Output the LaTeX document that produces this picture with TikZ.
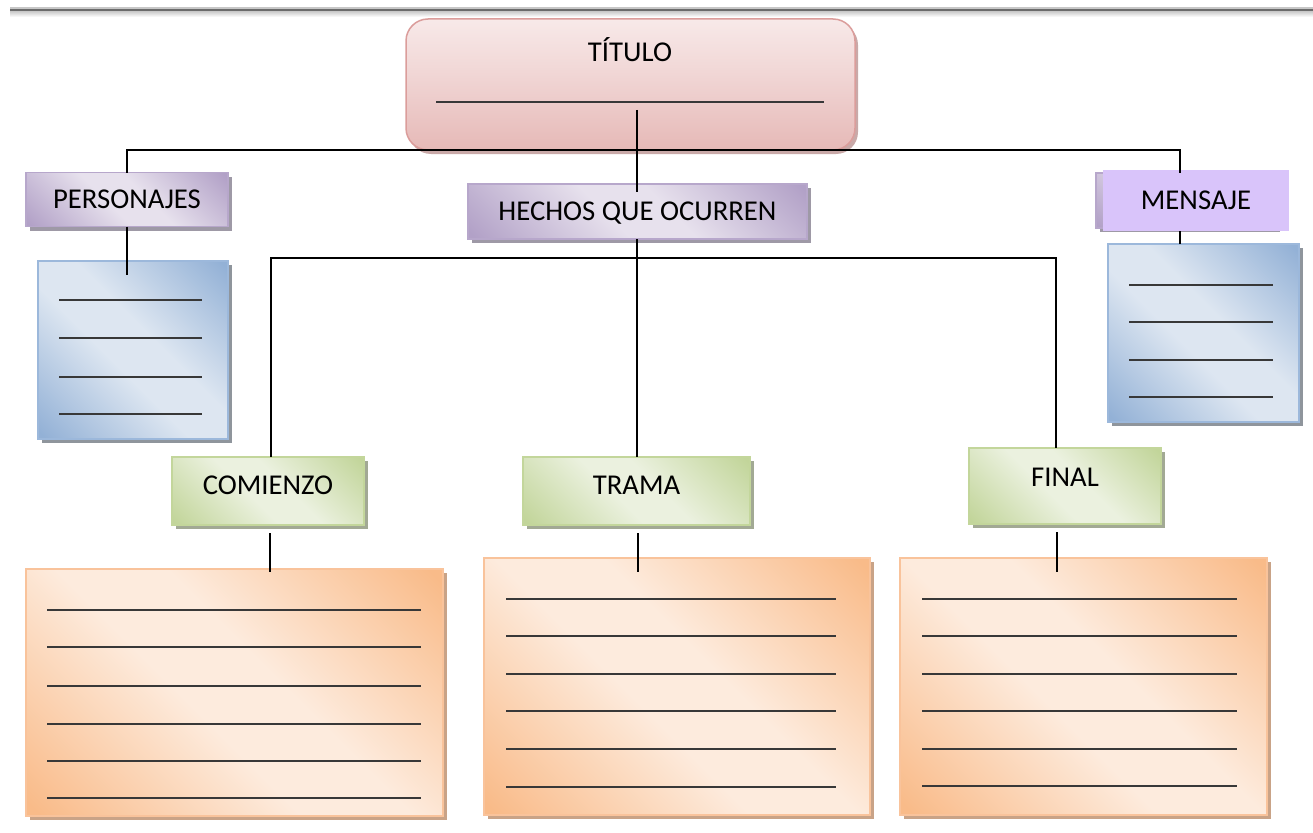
\documentclass[tikz,border=0pt]{standalone}
\usepackage{fontspec}
\setmainfont{Carlito}
\usetikzlibrary{shadows,calc}

\definecolor{ordark}{HTML}{F9BB89}
\definecolor{orlight}{HTML}{FDEBDD}
\definecolor{orline}{HTML}{F9C39B}
\definecolor{orshadow}{HTML}{C9A387}
\definecolor{bldark}{HTML}{93B1D6}
\definecolor{bllight}{HTML}{DDE6F1}
\definecolor{blline}{HTML}{9CB8DB}
\definecolor{blshadow}{HTML}{8F959C}
\definecolor{grdark}{HTML}{C2D59A}
\definecolor{grlight}{HTML}{EBF1DF}
\definecolor{grline}{HTML}{C3D69B}
\definecolor{grshadow}{HTML}{A2A994}
\definecolor{pudark}{HTML}{B2A1C7}
\definecolor{pulight}{HTML}{E7E1ED}
\definecolor{puline}{HTML}{B7A7CB}
\definecolor{pushadow}{HTML}{9E99A6}
\definecolor{melight}{HTML}{D9C4FA}
\definecolor{tidark}{HTML}{E4B4B2}
\definecolor{timid}{HTML}{F1D7D6}
\definecolor{tilight}{HTML}{FBF2F2}
\definecolor{tiline}{HTML}{DB9D9B}
\definecolor{tishadow}{HTML}{C9A9A8}

\pgfdeclareverticalshading{orshade}{100bp}{color(0bp)=(ordark); color(16bp)=(ordark); color(44bp)=(orlight); color(56bp)=(orlight); color(84bp)=(ordark); color(100bp)=(ordark)}
\pgfdeclareverticalshading{blshade}{100bp}{color(0bp)=(bldark); color(16bp)=(bldark); color(44bp)=(bllight); color(56bp)=(bllight); color(84bp)=(bldark); color(100bp)=(bldark)}
\pgfdeclareverticalshading{grshade}{100bp}{color(0bp)=(grdark); color(16bp)=(grdark); color(44bp)=(grlight); color(56bp)=(grlight); color(84bp)=(grdark); color(100bp)=(grdark)}
\pgfdeclareverticalshading{pushade}{100bp}{color(0bp)=(pudark); color(16bp)=(pudark); color(44bp)=(pulight); color(56bp)=(pulight); color(84bp)=(pudark); color(100bp)=(pudark)}
\pgfdeclareverticalshading{tishade}{100bp}{color(0bp)=(tidark); color(20bp)=(tidark); color(55bp)=(timid); color(85bp)=(tilight); color(100bp)=(tilight)}

\tikzset{
  conn/.style={draw=black, line width=1.6pt},
  rule/.style={draw=black!78, line width=1.6pt},
  boxbase/.style={rectangle, inner sep=0pt, outer sep=0pt, line width=1.5pt},
  orbox/.style={boxbase, shading=orshade, shading angle=-45, draw=orline,
    drop shadow={shadow xshift=4pt, shadow yshift=-4pt, fill=orshadow, opacity=1}},
  blbox/.style={boxbase, shading=blshade, shading angle=-45, draw=blline,
    drop shadow={shadow xshift=4pt, shadow yshift=-4pt, fill=blshadow, opacity=1}},
  grbox/.style={boxbase, shading=grshade, shading angle=-45, draw=grline,
    drop shadow={shadow xshift=4pt, shadow yshift=-4pt, fill=grshadow, opacity=1}},
  pubox/.style={boxbase, shading=pushade, shading angle=-45, draw=puline,
    drop shadow={shadow xshift=4pt, shadow yshift=-4pt, fill=pushadow, opacity=1}},
  mebox/.style={boxbase, fill=melight, draw=none},
  tibox/.style={boxbase, rounded corners=22pt, shading=tishade, draw=tiline,
    drop shadow={shadow xshift=3pt, shadow yshift=-4pt, fill=tishadow, opacity=1}},
  txt/.style={font=\fontsize{28.7}{32}\selectfont, text=black, text height=18.5pt, text depth=0pt}
}

\begin{document}
\begin{tikzpicture}[x=1pt,y=-1pt]
\useasboundingbox (0,0) rectangle (1313,832);
\fill[white] (0,0) rectangle (1313,832);
% top rule
\fill[black!22] (10,7) rectangle (1313,9);
\fill[black!58] (10,9) rectangle (1313,12);
\shade[top color=black!18, bottom color=white] (10,12) rectangle (1313,17);

% title
\node[tibox, minimum width=449pt, minimum height=131pt] (title) at (630.5,84.5) {};
\node[txt] (titletext) at (630,52) {TÍTULO};
\draw[rule] (436,102) -- (824,102);

% purple headers
\node[pubox, txt, minimum width=202pt, minimum height=54pt] (pers) at (127,199.5) {PERSONAJES};
\node[pubox, txt, minimum width=339pt, minimum height=55pt] (hechos) at (637.5,211.5) {HECHOS QUE OCURREN};
\node[pubox, minimum width=180pt, minimum height=55pt] (mensback) at (1186,200.5) {};
\node[mebox, txt, minimum width=186pt, minimum height=61pt] (mens) at (1196,200.5) {MENSAJE};

% blue boxes
\node[blbox, minimum width=190pt, minimum height=178pt] (persbox) at (133,350) {};
\node[blbox, minimum width=191pt, minimum height=178pt] (mensbox) at (1203.5,333) {};
\foreach \yy in {300,338,377,414} \draw[rule] (59,\yy) -- (202,\yy);
\foreach \yy in {285,322,360,397} \draw[rule] (1129,\yy) -- (1273,\yy);

% green boxes
\node[grbox, txt, text depth=12pt, minimum width=192pt, minimum height=68pt] (com) at (268,491) {COMIENZO};
\node[grbox, txt, text depth=12pt, minimum width=227pt, minimum height=68pt] (trama) at (636.5,491) {TRAMA};
\node[grbox, txt, text depth=18pt, minimum width=192pt, minimum height=76pt] (fin) at (1065,486) {FINAL};

% orange boxes
\node[orbox, minimum width=417pt, minimum height=247pt] (ocom) at (234.5,692.5) {};
\node[orbox, minimum width=386pt, minimum height=257pt] (otra) at (677,686.5) {};
\node[orbox, minimum width=367pt, minimum height=257pt] (ofin) at (1083.5,686.5) {};
\foreach \yy in {610,647,686,724,761,798} \draw[rule] (47,\yy) -- (421,\yy);
\foreach \yy in {599,636,674,711,749,787} \draw[rule] (506,\yy) -- (836,\yy);
\foreach \yy in {599,636,674,711,749,786} \draw[rule] (922,\yy) -- (1237,\yy);

% connectors
\coordinate (tl) at (637,110);
\coordinate (hl) at (127,150);
\coordinate (hr) at (1180,150);
\coordinate (bl) at (271,258);
\coordinate (br) at (1056,258);
\draw[conn] (tl) -- ([yshift=-8pt]tl |- hechos.north);
\draw[conn] (pers.north) -- (hl) -- (hr) -- (hr |- mensback.north);
\draw[conn] (pers.south) -- ([yshift=-14pt]pers.south |- persbox.north);
\draw[conn] (hr |- mens.south) -- (hr |- mensbox.north);
\draw[conn] (hechos.south -| tl) -- (tl |- trama.north);
\draw[conn] (bl |- com.north) -- (bl) -- (br) -- (br |- fin.north);
\draw[conn] ([yshift=-8pt]270,0 |- com.south) -- ([yshift=-3pt]270,0 |- ocom.north);
\draw[conn] ([yshift=-8pt]638,0 |- trama.south) -- ([yshift=-14pt]638,0 |- otra.north);
\draw[conn] ([yshift=-8pt]1057,0 |- fin.south) -- ([yshift=-14pt]1057,0 |- ofin.north);
\end{tikzpicture}
\end{document}
